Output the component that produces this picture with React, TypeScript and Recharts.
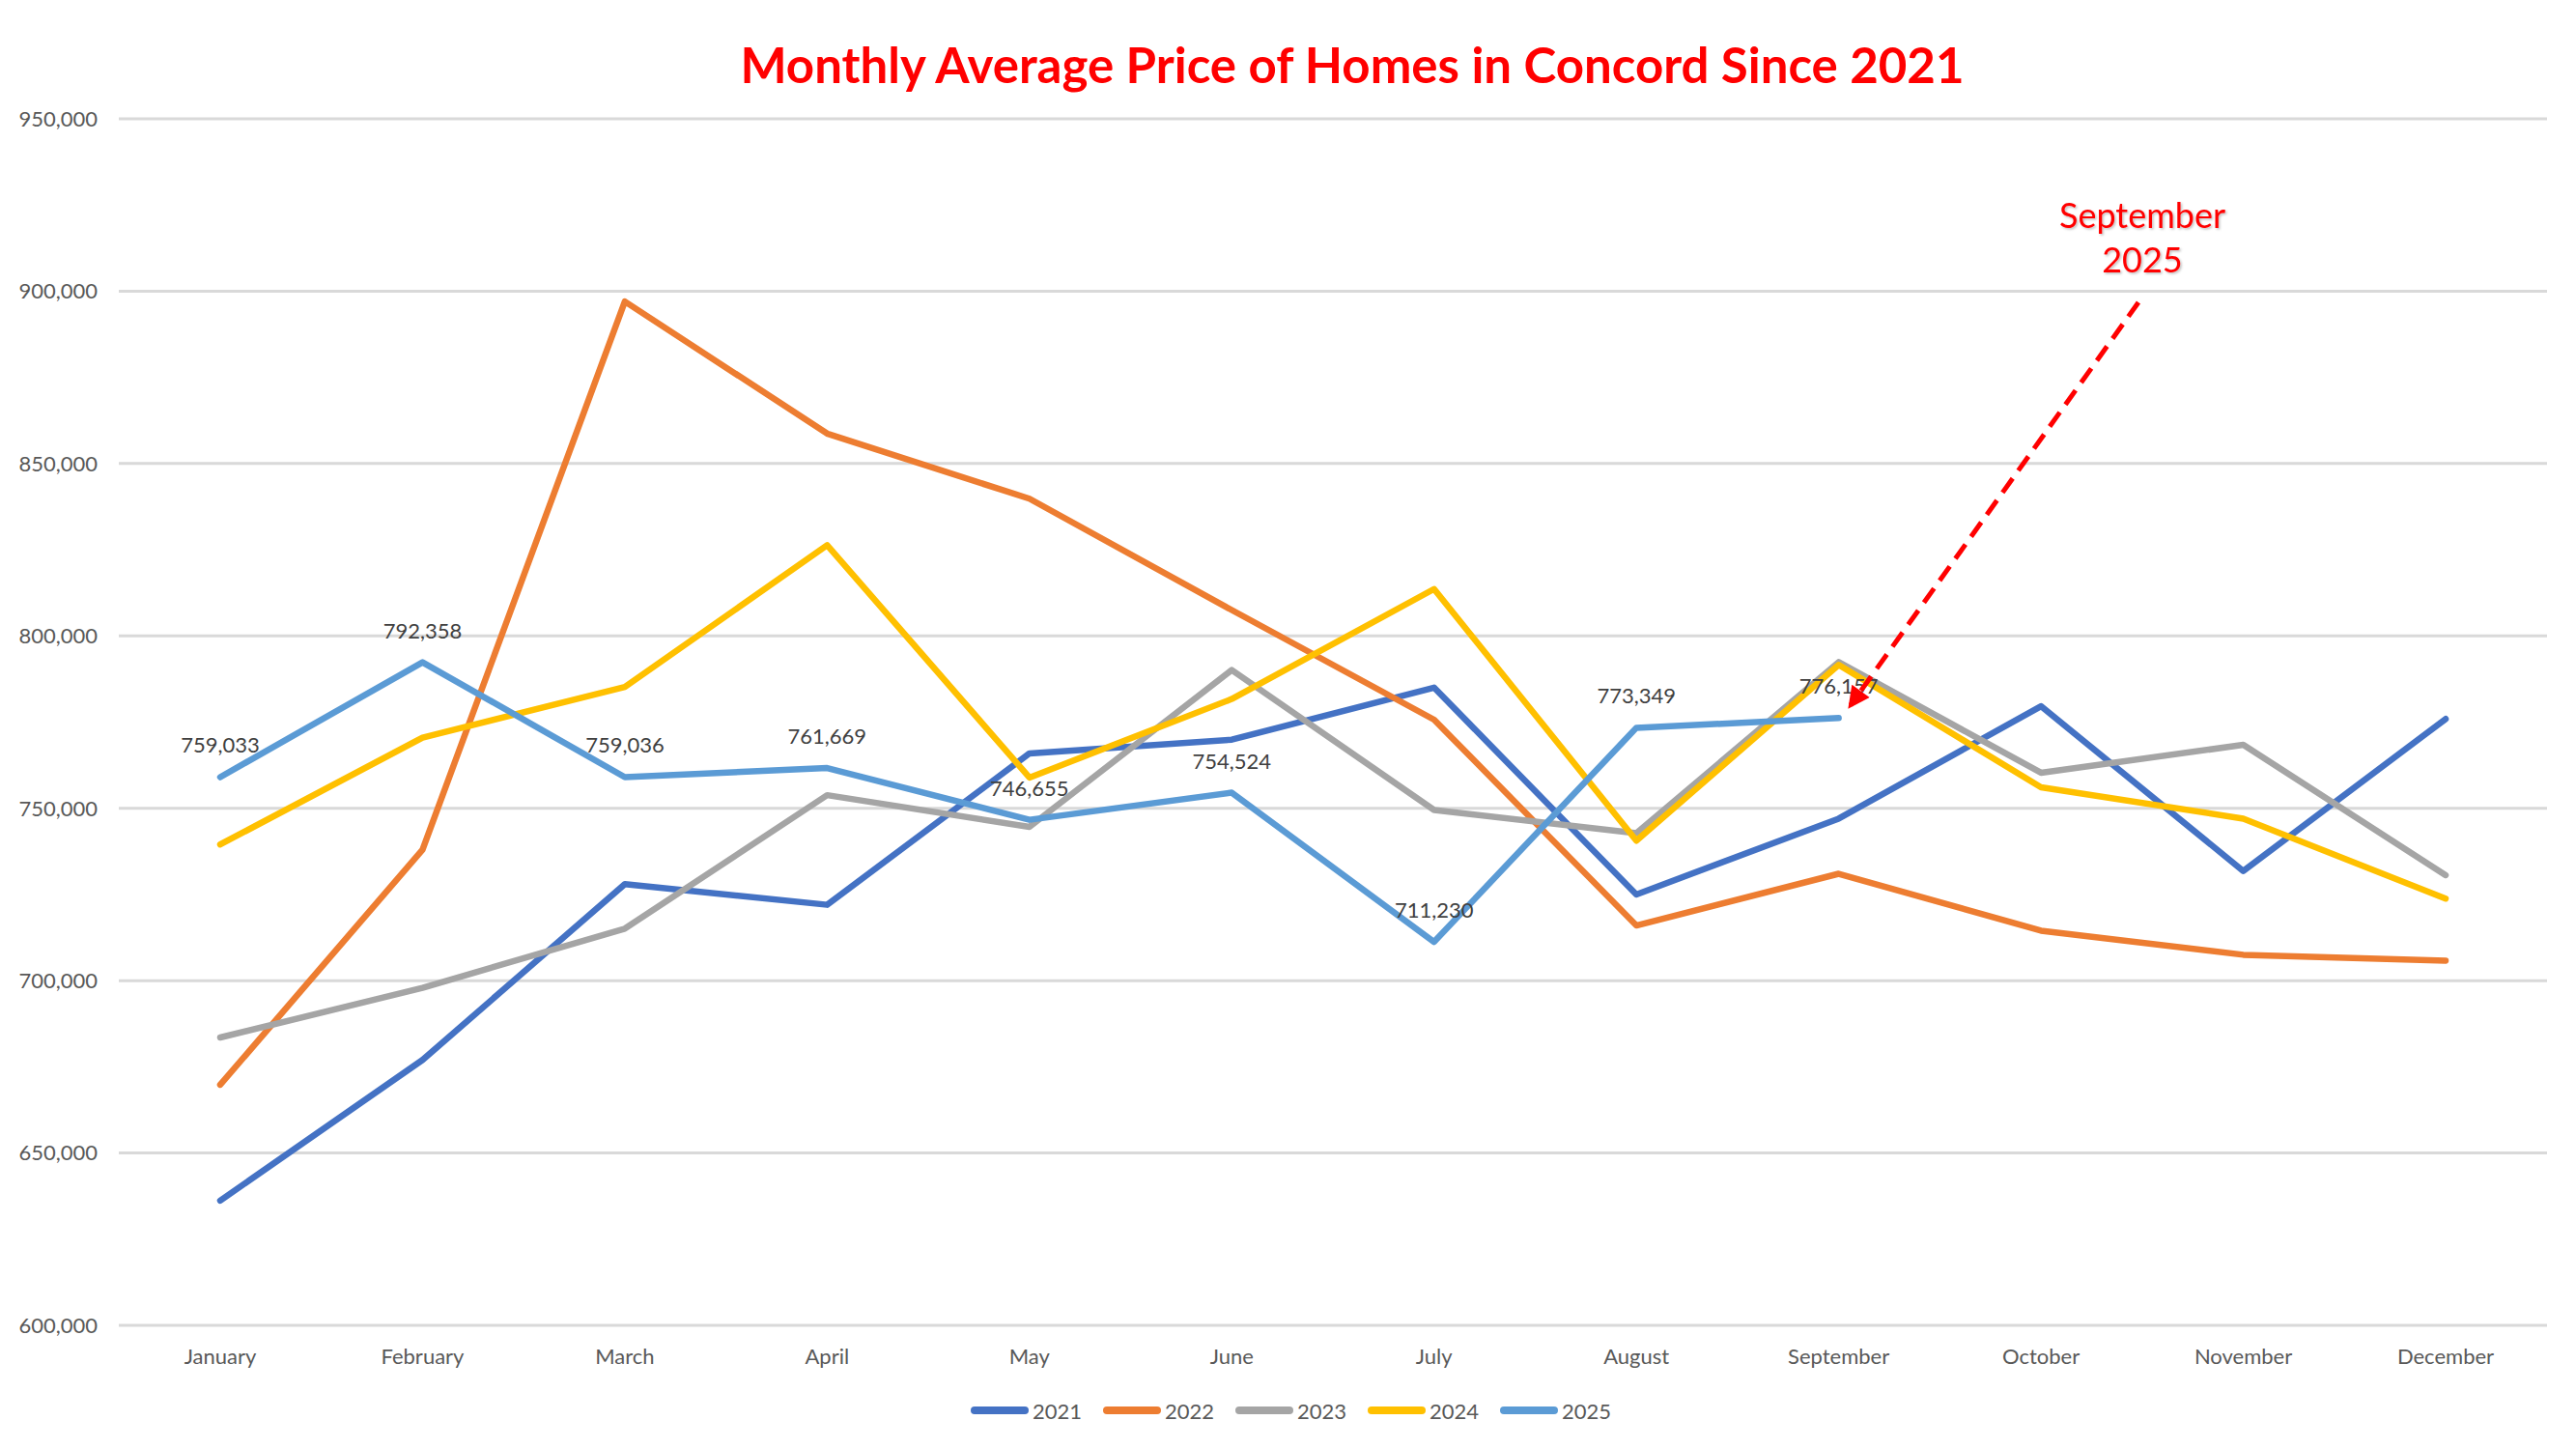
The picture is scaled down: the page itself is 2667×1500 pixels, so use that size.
import React from "react";
import {
  LineChart,
  Line,
  XAxis,
  YAxis,
  CartesianGrid,
  Legend,
  LabelList,
} from "recharts";

const months = [
  "January",
  "February",
  "March",
  "April",
  "May",
  "June",
  "July",
  "August",
  "September",
  "October",
  "November",
  "December",
];

const y2021 = [636200, 677000, 728000, 722000, 765900, 769900, 785000, 725000, 747000, 779600, 731800, 775900];
const y2022 = [669800, 738000, 897000, 858700, 839800, 807500, 775700, 716000, 731000, 714500, 707500, 705800];
const y2023 = [683500, 697900, 715100, 753800, 744600, 790100, 749500, 742800, 792400, 760300, 768400, 730600];
const y2024 = [739500, 770500, 785200, 826300, 758900, 781700, 813600, 740600, 791600, 756100, 747000, 723800];
const y2025 = [759033, 792358, 759036, 761669, 746655, 754524, 711230, 773349, 776157, null, null, null];

const yTicks = [600000, 650000, 700000, 750000, 800000, 850000, 900000, 950000];

const series = [
  { key: "2021", values: y2021, color: "#4472C4" },
  { key: "2022", values: y2022, color: "#ED7D31" },
  { key: "2023", values: y2023, color: "#A5A5A5" },
  { key: "2024", values: y2024, color: "#FFC000" },
  { key: "2025", values: y2025, color: "#5B9BD5" },
];

const data = months.map((m, i) => {
  const row: Record<string, any> = { month: m };
  series.forEach((s) => {
    row[s.key] = s.values[i];
  });
  return row;
});

const FONT = "Lato, 'Open Sans', sans-serif";
const fmt = (v: any) => (v == null ? "" : Number(v).toLocaleString("en-US"));

function LegendContent() {
  return (
    <div
      style={{
        display: "flex",
        justifyContent: "center",
        alignItems: "center",
        gap: 22,
        height: 30,
        paddingLeft: 36,
        fontFamily: FONT,
        fontSize: 22,
        color: "#595959",
      }}
    >
      {series.map((s) => (
        <div key={s.key} style={{ display: "flex", alignItems: "center" }}>
          <span
            style={{
              display: "inline-block",
              width: 60,
              height: 8,
              borderRadius: 4,
              background: s.color,
              marginRight: 4,
            }}
          />
          {s.key}
        </div>
      ))}
    </div>
  );
}

export default function App() {
  return (
    <div
      style={{
        position: "absolute",
        left: 0,
        top: 0,
        width: 2667,
        height: 1500,
        background: "#fff",
      }}
    >
      <LineChart
        width={2667}
        height={1500}
        data={data}
        margin={{ top: 123, right: 30, left: 0, bottom: 25 }}
      >
        <CartesianGrid vertical={false} stroke="#D9D9D9" strokeWidth={3} />
        <XAxis
          dataKey="month"
          axisLine={false}
          tickLine={false}
          tickSize={0}
          tickMargin={24}
          height={73}
          interval={0}
          padding={{ left: 105, right: 105 }}
          tick={{ fill: "#595959", fontSize: 22, fontFamily: FONT }}
        />
        <YAxis
          domain={[600000, 950000]}
          ticks={yTicks}
          axisLine={false}
          tickLine={false}
          tickSize={0}
          tickMargin={22}
          width={123}
          tickFormatter={fmt}
          tick={{ fill: "#595959", fontSize: 22, fontFamily: FONT }}
        />
        <Legend verticalAlign="bottom" content={<LegendContent />} />
        {series.map((s) => (
          <Line
            key={s.key}
            type="linear"
            dataKey={s.key}
            stroke={s.color}
            strokeWidth={6.5}
            strokeLinecap="round"
            strokeLinejoin="round"
            dot={false}
            activeDot={false}
            isAnimationActive={false}
          >
            {s.key === "2025" && (
              <LabelList
                dataKey="2025"
                position="top"
                offset={25}
                formatter={fmt}
                fill="#404040"
                fontSize={22}
                fontFamily={FONT}
              />
            )}
          </Line>
        ))}
      </LineChart>
      <svg
        width={2667}
        height={1500}
        style={{ position: "absolute", left: 0, top: 0, pointerEvents: "none" }}
      >
        <defs>
          <marker
            id="arrowHead"
            viewBox="0 0 10 10"
            refX="8"
            refY="5"
            markerWidth="5"
            markerHeight="4.5"
            orient="auto"
          >
            <path d="M0,0 L10,5 L0,10 z" fill="#FF0000" />
          </marker>
          <filter id="soft" x="-10%" y="-10%" width="120%" height="120%">
            <feDropShadow dx="1.5" dy="1.5" stdDeviation="1" floodColor="#000" floodOpacity="0.25" />
          </filter>
        </defs>
        <text
          x={1400}
          y={86}
          textAnchor="middle"
          fontFamily={FONT}
          fontWeight={700}
          fontSize={51}
          fill="#FF0000"
        >
          Monthly Average Price of Homes in Concord Since 2021
        </text>
        <g filter="url(#soft)" fontFamily={FONT} fontSize={36} fill="#FF0000" textAnchor="middle">
          <text x={2218} y={236}>September</text>
          <text x={2218} y={282}>2025</text>
        </g>
        <line
          x1={2214}
          y1={313}
          x2={1916}
          y2={730}
          stroke="#FF0000"
          strokeWidth={5}
          strokeDasharray="18 10"
          markerEnd="url(#arrowHead)"
        />
      </svg>
    </div>
  );
}
